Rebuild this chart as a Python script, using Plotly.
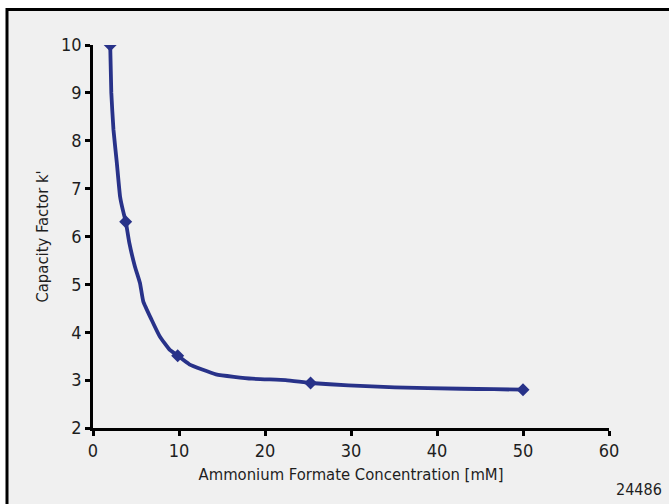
import plotly.graph_objects as go

# Curve
curve_x = [2.0, 2.13, 2.38, 2.77, 3.15, 3.46, 3.81, 4.23, 4.88, 5.46, 5.85, 6.81, 7.77, 8.93,
           9.85, 11.2, 14.3, 18.5, 22.4, 25.3, 29.7, 35.1, 42.8, 46.6, 50.0]
curve_y = [10.0, 9.0, 8.23, 7.54, 6.83, 6.56, 6.31, 5.86, 5.37, 5.03, 4.64, 4.26, 3.91, 3.63,
           3.51, 3.33, 3.12, 3.03, 3.0, 2.94, 2.89, 2.85, 2.82, 2.81, 2.80]
# Measured points (markers)
point_x = [2.0, 3.8, 9.85, 25.3, 50.0]
point_y = [10.0, 6.31, 3.51, 2.94, 2.80]

x_ticks = [0, 10, 20, 30, 40, 50, 60]
y_ticks = [2, 3, 4, 5, 6, 7, 8, 9, 10]

x_title = "Ammonium Formate Concentration [mM]"
y_title = "Capacity Factor k'"
code_label = "24486"

COLOR = "#283289"
FONT = "DejaVu Sans Condensed, Liberation Sans Narrow, sans-serif"
TXT = "#1e1e1e"

fig = go.Figure()
fig.add_trace(go.Scatter(x=curve_x, y=curve_y, mode="lines",
                         line=dict(color=COLOR, width=3.8, shape="spline", smoothing=0.4),
                         hoverinfo="skip", showlegend=False))
fig.add_trace(go.Scatter(x=point_x, y=point_y, mode="markers",
                         marker=dict(symbol="diamond", size=10, color=COLOR),
                         showlegend=False))

L, R, T, B = 93, 60, 45, 76
W, H = 669, 504
pw, ph = W - L - R, H - T - B

def px2paper_x(px):
    return (px - L) / pw

def px2paper_y(py):
    return (H - B - py) / ph

fig.add_shape(type="rect", xref="paper", yref="paper",
              x0=px2paper_x(7), x1=px2paper_x(W + 10),
              y0=px2paper_y(H + 10), y1=px2paper_y(9.5),
              fillcolor="#f0f0f0", line=dict(color="black", width=3), layer="below")

fig.add_annotation(text=code_label, xref="paper", yref="paper",
                   x=px2paper_x(664), y=px2paper_y(490), xanchor="right", yanchor="middle",
                   showarrow=False, font=dict(family=FONT, size=16, color=TXT))

axis_common = dict(showline=True, linecolor="black", linewidth=2.5, ticks="outside",
                   ticklen=5, tickwidth=2.5, tickcolor="black", showgrid=False,
                   zeroline=False, tickfont=dict(family=FONT, size=18, color=TXT))

fig.update_xaxes(range=[0, 60], tickvals=x_ticks, ticktext=[str(v) for v in x_ticks],
                 title=dict(text=x_title, font=dict(family=FONT, size=16.5, color=TXT), standoff=9),
                 **axis_common)
fig.update_yaxes(range=[2, 10], tickvals=y_ticks, ticktext=[str(v) for v in y_ticks],
                 title=dict(text=y_title, font=dict(family=FONT, size=16.5, color=TXT), standoff=9),
                 **axis_common)

fig.update_layout(width=W, height=H, margin=dict(l=L, r=R, t=T, b=B, pad=0),
                  paper_bgcolor="white", plot_bgcolor="rgba(0,0,0,0)")

fig.write_html("out.html")
